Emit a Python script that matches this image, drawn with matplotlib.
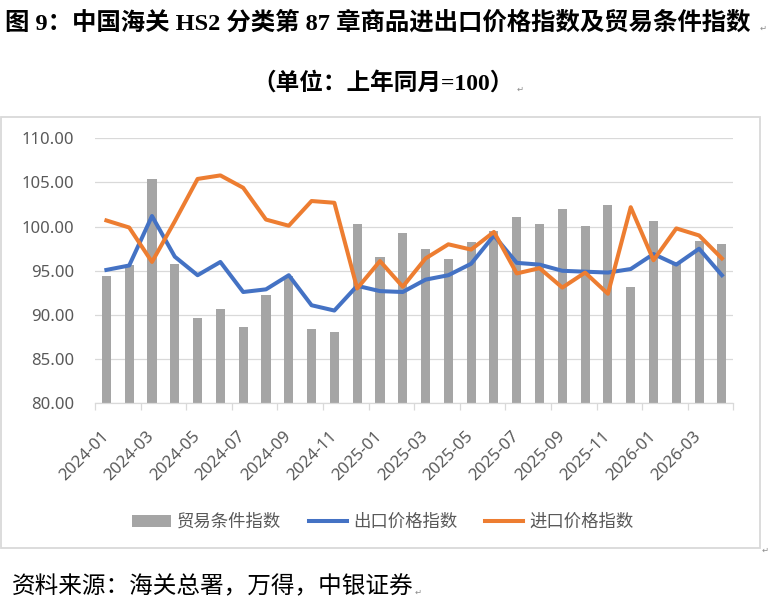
import matplotlib
matplotlib.use("Agg")
import matplotlib.pyplot as plt
from matplotlib.patches import Patch, Rectangle
from matplotlib.lines import Line2D
import numpy as np

months = ['2024-01', '2024-02', '2024-03', '2024-04', '2024-05', '2024-06', '2024-07',
          '2024-08', '2024-09', '2024-10', '2024-11', '2024-12', '2025-01', '2025-02',
          '2025-03', '2025-04', '2025-05', '2025-06', '2025-07', '2025-08', '2025-09',
          '2025-10', '2025-11', '2025-12', '2026-01', '2026-02', '2026-03', '2026-04']

# 贸易条件指数 (bars)
terms = [94.4, 95.6, 105.4, 95.8, 89.7, 90.7, 88.6, 92.3, 94.4, 88.4, 88.1, 100.3,
         96.6, 99.3, 97.5, 96.3, 98.3, 99.5, 101.1, 100.3, 102.0, 100.1, 102.5, 93.2,
         100.6, 96.0, 98.4, 98.0]
# 出口价格指数
export_idx = [95.1, 95.6, 101.2, 96.6, 94.5, 96.0, 92.6, 92.9, 94.5, 91.1, 90.5, 93.3,
              92.7, 92.6, 94.0, 94.5, 95.8, 99.0, 95.9, 95.7, 95.0, 94.9, 94.8, 95.2,
              96.9, 95.7, 97.5, 94.5]
# 进口价格指数
import_idx = [100.7, 99.9, 96.0, 100.6, 105.4, 105.8, 104.4, 100.8, 100.1, 102.9, 102.7, 93.0,
              96.1, 93.2, 96.4, 98.0, 97.4, 99.4, 94.7, 95.3, 93.1, 94.8, 92.4, 102.2,
              96.2, 99.8, 99.0, 96.4]

legend_names = ['贸易条件指数', '出口价格指数', '进口价格指数']
y_ticks = [80, 85, 90, 95, 100, 105, 110]

cjk = ['Noto Sans CJK SC', 'DejaVu Sans']
serif = ['Liberation Serif', 'Noto Sans CJK SC', 'DejaVu Sans']
num_font = ['Noto Sans', 'DejaVu Sans']
grey_txt = '#595959'
line_grey = '#d9d9d9'

W, H = 773, 608
fig = plt.figure(figsize=(W / 100, H / 100), dpi=100)

# chart frame
fig.patches.append(Rectangle((1 / W, 1 - 548 / H), 759 / W, (548 - 117) / H,
                             transform=fig.transFigure, fill=False,
                             edgecolor=line_grey, linewidth=1.3))

ax = fig.add_axes([95 / W, 1 - 403.3 / H, (733.3 - 95) / W, (403.3 - 138.3) / H])
x = np.arange(len(months))

ax.bar(x, [t - 80 for t in terms], bottom=80, width=0.4, color='#a5a5a5', zorder=2)
ax.plot(x, export_idx, color='#4472c4', linewidth=2.9, zorder=3)
ax.plot(x, import_idx, color='#ed7d31', linewidth=2.9, zorder=4)

ax.set_xlim(-0.5, len(months) - 0.5)
ax.set_ylim(80, 110)
ax.set_yticks(y_ticks)
ax.set_yticklabels([f'{v:.2f}' for v in y_ticks], family=num_font, fontsize=12, color=grey_txt)
ax.tick_params(axis='y', length=0, pad=15)
ax.grid(axis='y', color=line_grey, linewidth=0.9, zorder=0)
ax.set_axisbelow(True)

ax.set_xticks(x[::2])
ax.set_xticklabels(months[::2], rotation=45, ha='right', va='center',
                   rotation_mode='anchor', family=num_font, fontsize=12, color=grey_txt)
ax.tick_params(axis='x', which='major', length=0, pad=22)
ax.set_xticks(np.arange(-0.5, len(months), 2), minor=True)
ax.tick_params(axis='x', which='minor', length=5, color=line_grey, width=0.9)

for s in ['top', 'right', 'left']:
    ax.spines[s].set_visible(False)
ax.spines['bottom'].set_color(line_grey)
ax.spines['bottom'].set_linewidth(0.9)

handles = [Patch(facecolor='#a5a5a5'),
           Line2D([0], [0], color='#4472c4', linewidth=2.9),
           Line2D([0], [0], color='#ed7d31', linewidth=2.9)]
leg = fig.legend(handles, legend_names, loc='center', bbox_to_anchor=(383 / W, 1 - 522 / H),
                 ncol=3, frameon=False, prop={'family': cjk, 'size': 12.5},
                 handlelength=2.2, handleheight=0.7, handletextpad=0.35, columnspacing=1.6)
for t in leg.get_texts():
    t.set_color(grey_txt)

fig.text(5 / W, 1 - 23 / H, '图 9：中国海关 HS2 分类第 87 章商品进出口价格指数及贸易条件指数',
         family=serif, fontweight='bold', fontsize=17.6, ha='left', va='center')
fig.text(383 / W, 1 - 83 / H, '（单位：上年同月=100）',
         family=serif, fontweight='bold', fontsize=17, ha='center', va='center')
fig.text(12 / W, 1 - 587 / H, '资料来源：海关总署，万得，中银证券',
         family=serif, fontsize=17, ha='left', va='center')

# word paragraph marks
for px, py in [(763, 28), (520, 89), (418, 592), (765, 550)]:
    fig.text(px / W, 1 - py / H, '↵', family='DejaVu Sans', fontsize=6, color='#8c8c8c',
             ha='center', va='center')

fig.savefig('out.png', dpi=100)
